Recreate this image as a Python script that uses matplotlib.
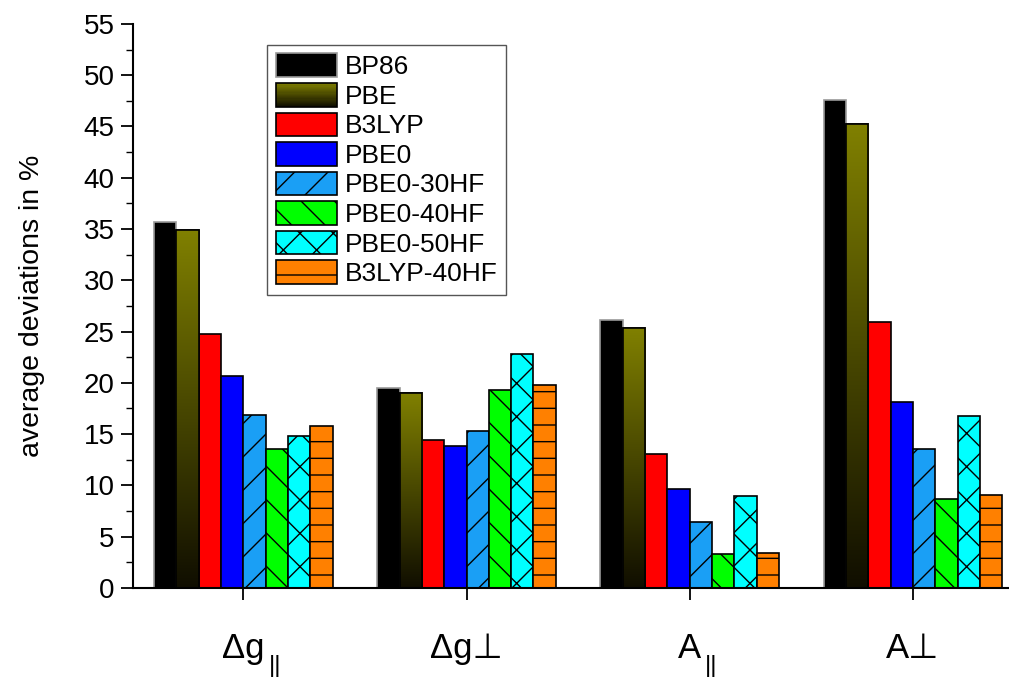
import numpy as np
import matplotlib
matplotlib.use("Agg")
import matplotlib.pyplot as plt
from matplotlib.patches import Rectangle
from matplotlib.legend_handler import HandlerBase
from matplotlib.ticker import MultipleLocator
import matplotlib.colors as mcolors

plt.rcParams['font.family'] = ['Liberation Sans', 'DejaVu Sans']
plt.rcParams['hatch.linewidth'] = 1.0

categories = ['Δg', 'Δg⊥', 'A', 'A⊥']
subscripts = ['||', '', '||', '']
methods = ['BP86', 'PBE', 'B3LYP', 'PBE0', 'PBE0-30HF', 'PBE0-40HF',
           'PBE0-50HF', 'B3LYP-40HF']
values = {
    'BP86':       [35.7, 19.5, 26.1, 47.6],
    'PBE':        [34.9, 19.0, 25.3, 45.2],
    'B3LYP':      [24.8, 14.4, 13.1, 25.9],
    'PBE0':       [20.7, 13.8, 9.6, 18.1],
    'PBE0-30HF':  [16.9, 15.3, 6.4, 13.5],
    'PBE0-40HF':  [13.5, 19.3, 3.3, 8.7],
    'PBE0-50HF':  [14.8, 22.8, 9.0, 16.8],
    'B3LYP-40HF': [15.8, 19.8, 3.4, 9.1],
}
colors = ['#000000', '#808000', '#ff0000', '#0000ff', '#1a9ff5',
          '#00ff00', '#00ffff', '#ff8000']
hatches = [None, None, None, None, '/', '\\', 'x', '-']

olive_top = np.array(mcolors.to_rgb('#808000'))
olive_bot = np.array(mcolors.to_rgb('#100e00'))
grad = np.linspace(0, 1, 256)[:, None]
grad_img = olive_bot + grad[..., None] * (olive_top - olive_bot)  # bottom->top


class GradientHandler(HandlerBase):
    # legend key for the PBE bars: same olive-to-black fade
    def create_artists(self, legend, orig_handle, xdescent, ydescent,
                       width, height, fontsize, trans):
        arts = []
        n = 20
        for k in range(n):
            c = olive_bot + (k + 0.5) / n * (olive_top - olive_bot)
            r = Rectangle((-xdescent, -ydescent + k * height / n), width,
                          height / n + 0.3, facecolor=c, edgecolor='none',
                          transform=trans)
            arts.append(r)
        arts.append(Rectangle((-xdescent, -ydescent), width, height,
                              facecolor='none', edgecolor='black', lw=1.2,
                              transform=trans))
        return arts


fig = plt.figure(figsize=(10.09, 6.82), dpi=100)
ax = fig.add_axes([0.132, 0.138, 0.868, 0.827])

x = np.arange(len(categories))
w = 0.1
handles = []
for j, m in enumerate(methods):
    pos = x + (j - 3.5) * w
    ec = '#999999' if j == 0 else 'black'
    bars = ax.bar(pos, values[m], width=w, color=colors[j], edgecolor=ec,
                  linewidth=1.2, hatch=hatches[j], label=m, zorder=2)
    if m == 'PBE':
        for b in bars:
            im = ax.imshow(grad_img, origin='lower', aspect='auto',
                           extent=[b.get_x(), b.get_x() + b.get_width(),
                                   0, b.get_height()], zorder=2.5)
            im.set_clip_path(b)
            ax.add_patch(Rectangle((b.get_x(), 0), b.get_width(),
                                   b.get_height(), facecolor='none',
                                   edgecolor='black', lw=1.2, zorder=3))
    handles.append(bars)

ax.set_xlim(-0.493, 3.43)
ax.set_ylim(0, 55)
ax.set_xticks(x)
ax.set_xticklabels(categories, fontsize=25)
for lab in ax.get_xticklabels():
    lab.set_verticalalignment('baseline')
ax.yaxis.set_major_locator(MultipleLocator(5))
ax.yaxis.set_minor_locator(MultipleLocator(2.5))
ax.tick_params(axis='y', which='major', direction='out', length=8.5, width=1.3,
               labelsize=20, pad=5)
ax.tick_params(axis='y', which='minor', direction='out', length=5, width=1.0)
ax.tick_params(axis='x', which='major', direction='out', length=8.5, width=1.3,
               pad=42)
ax.set_ylabel('average deviations in %', fontsize=20.5, labelpad=28)

# "||" subscripts hang below the baseline of the tick label
for lab, sub in zip(ax.get_xticklabels(), subscripts):
    if sub:
        ax.annotate(sub, xy=(1, 0), xycoords=lab, xytext=(4, 10),
                    textcoords='offset pixels', fontsize=17.5,
                    ha='left', va='top', annotation_clip=False)

for s in ['top', 'right']:
    ax.spines[s].set_visible(False)
for s in ['left', 'bottom']:
    ax.spines[s].set_linewidth(1.5)

leg = ax.legend(handles=handles, labels=methods, loc='upper left',
                bbox_to_anchor=(0.153, 0.963), borderaxespad=0, fontsize=19,
                handlelength=2.3, handleheight=1.0, labelspacing=0.14,
                handletextpad=0.31, borderpad=0.33, fancybox=False,
                framealpha=1, edgecolor='#555555',
                handler_map={handles[1]: GradientHandler()})
leg.get_frame().set_linewidth(1.0)

fig.savefig('out.png', dpi=100)
